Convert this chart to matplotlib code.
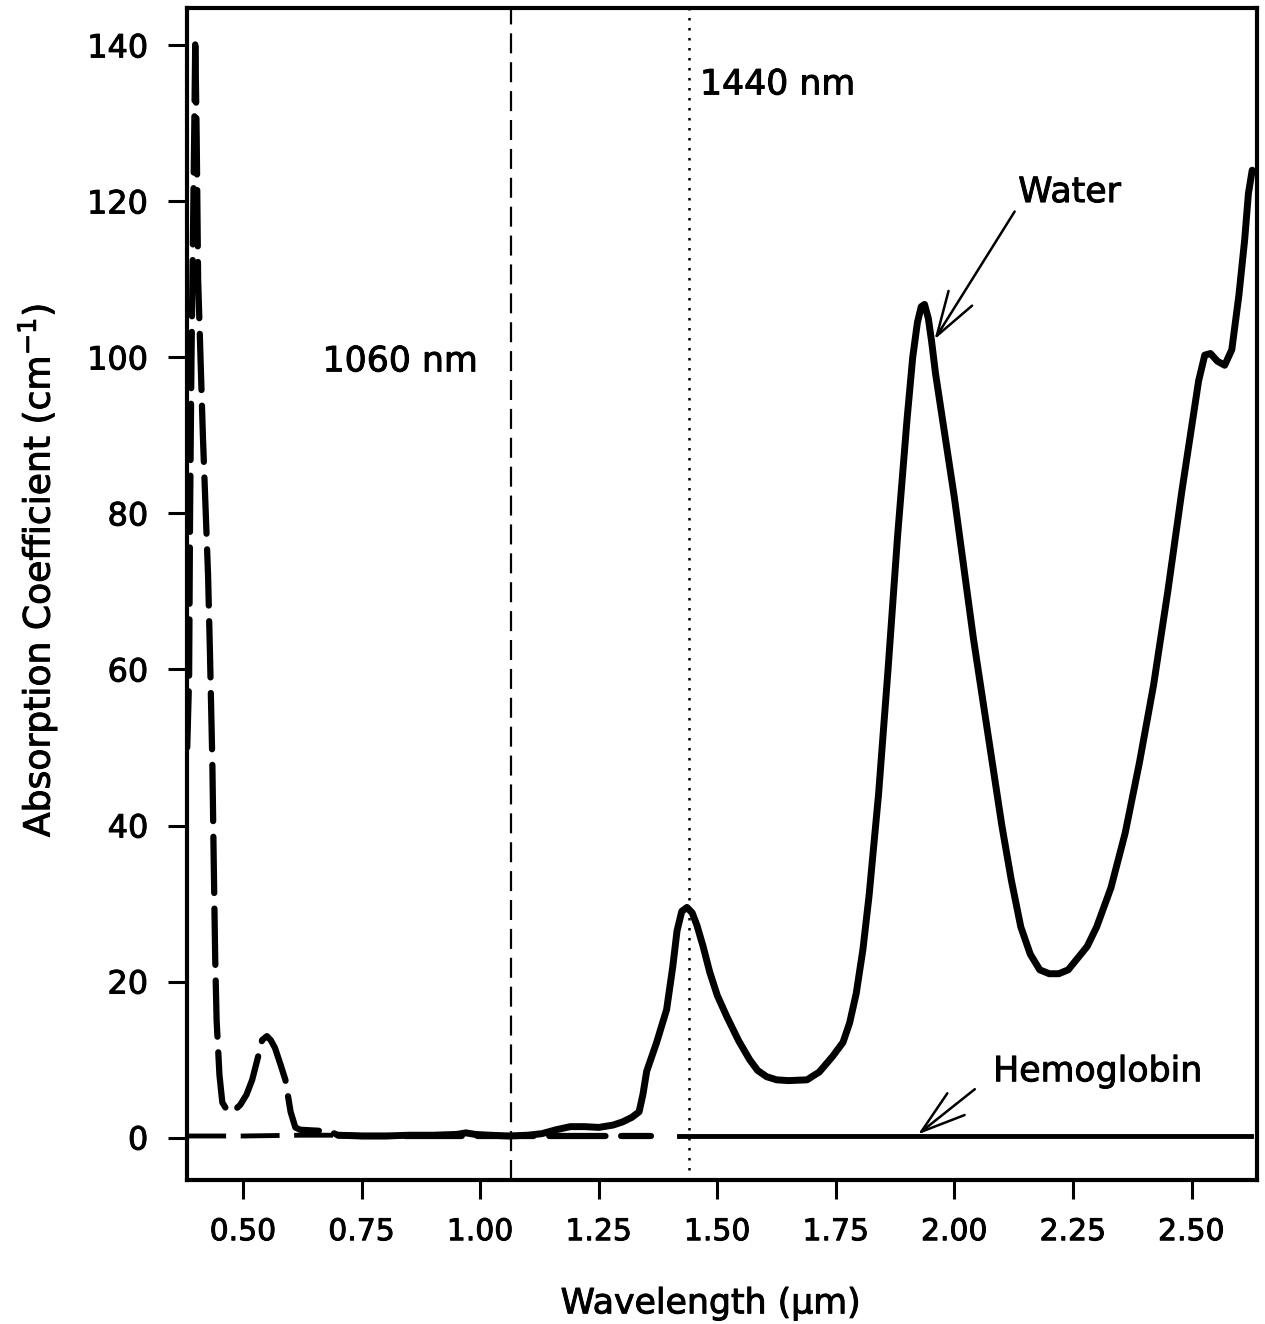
import numpy as np
import matplotlib
matplotlib.use("Agg")
import matplotlib.pyplot as plt
import matplotlib.patheffects as pe

plt.rcParams['font.family'] = ['DejaVu Sans']
plt.rcParams['mathtext.fontset'] = 'dejavusans'

# Hemoglobin absorption (dashed curve), wavelength in um
hb_wl = np.array([0.382, 0.386, 0.388, 0.391, 0.394, 0.397, 0.399, 0.402, 0.405,
                  0.415, 0.426, 0.430, 0.435, 0.438, 0.441, 0.444, 0.450, 0.456,
                  0.468, 0.480, 0.494, 0.507, 0.519, 0.530, 0.540, 0.550, 0.558,
                  0.567, 0.578, 0.589, 0.600, 0.610, 0.620, 0.650, 0.683, 0.700,
                  0.750, 1.000, 1.200, 1.360, 1.420, 2.000, 2.625])
hb_mua = np.array([50, 59, 80, 100, 115, 130, 141, 128, 110,
                   90, 72, 62, 48, 35, 23, 15, 8, 4.5,
                   3.3, 3.4, 4.2, 5.5, 7.4, 10, 12.5, 13, 12.5,
                   11.5, 9.5, 7.4, 3.3, 1.3, 1.0, 0.9, 0.8, 0.3,
                   0.2, 0.2, 0.2, 0.2, 0.2, 0.2, 0.2])

# Water absorption (solid curve)
w_wl = np.array([0.382, 0.50, 0.62, 0.70, 0.75, 0.80, 0.85, 0.90, 0.95, 0.97,
                 0.99, 1.02, 1.06, 1.10, 1.13, 1.16, 1.19, 1.22, 1.25, 1.28,
                 1.30, 1.32, 1.335, 1.343, 1.351, 1.372, 1.393, 1.406, 1.415, 1.425,
                 1.436, 1.447, 1.457, 1.470, 1.484, 1.50, 1.52, 1.545, 1.568, 1.585,
                 1.604, 1.625, 1.65, 1.689, 1.715, 1.743, 1.765, 1.779, 1.793, 1.807,
                 1.82, 1.84, 1.86, 1.88, 1.90, 1.912, 1.922, 1.930, 1.937, 1.945,
                 1.952, 1.96, 1.98, 2.00, 2.02, 2.04, 2.06, 2.08, 2.10, 2.12,
                 2.14, 2.16, 2.18, 2.20, 2.22, 2.24, 2.26, 2.28, 2.30, 2.33,
                 2.36, 2.39, 2.42, 2.45, 2.48, 2.50, 2.515, 2.528, 2.540, 2.555,
                 2.57, 2.585, 2.60, 2.612, 2.62, 2.628])
w_mua = np.array([0.2, 0.2, 0.3, 0.3, 0.2, 0.2, 0.3, 0.3, 0.4, 0.6,
                  0.4, 0.3, 0.2, 0.3, 0.5, 1.0, 1.4, 1.4, 1.3, 1.6,
                  2.0, 2.6, 3.3, 5.5, 8.5, 12.2, 16.4, 21.9, 26.5, 29.0,
                  29.5, 28.8, 27.2, 24.5, 21.2, 18.2, 15.5, 12.4, 10.0, 8.6,
                  7.8, 7.4, 7.3, 7.4, 8.4, 10.4, 12.2, 14.7, 18.5, 24.1,
                  31, 44, 60, 77, 92, 100, 104.5, 106.5, 106.8, 105,
                  102, 98, 90, 82, 73, 64, 56, 48, 40, 33,
                  27, 23.5, 21.5, 21, 21, 21.5, 23, 24.5, 27, 32,
                  39, 48, 58, 70, 83, 91, 97, 100.3, 100.5, 99.5,
                  99, 101, 108, 115, 121, 124])

laser_lines = [1.065, 1.44]
x_ticks = [0.50, 0.75, 1.00, 1.25, 1.50, 1.75, 2.00, 2.25, 2.50]
y_ticks = [0, 20, 40, 60, 80, 100, 120, 140]

fig = plt.figure(figsize=(12.65, 13.24), dpi=100)
ax = fig.add_axes([0.148, 0.109, 0.846, 0.885])

# hemoglobin: dashed in the visible, solid once it sits on zero past 1.4 um
m = hb_wl <= 1.36
ax.plot(hb_wl[m], hb_mua[m], color='black', lw=4.5, dashes=(9, 2.5),
        solid_capstyle='round', dash_capstyle='round', solid_joinstyle='round')
m2 = hb_wl >= 1.42
ax.plot(hb_wl[m2], hb_mua[m2], color='black', lw=3.5)

# water: dashed near zero at short wavelengths, solid after
mw = w_wl <= 0.70
ax.plot(w_wl[mw], w_mua[mw], color='black', lw=3.5, dashes=(8, 3))
mw2 = w_wl >= 0.70
ax.plot(w_wl[mw2], w_mua[mw2], color='black', lw=5, solid_joinstyle='round',
        solid_capstyle='round')

ax.axvline(laser_lines[0], color='black', lw=1.6, dashes=(9, 4))
ax.axvline(laser_lines[1], color='black', lw=1.8, dashes=(1, 3))

# slight stroke to mimic the heavier scanned lettering
heavy = [pe.withStroke(linewidth=0.7, foreground='black')]

ax.text(0.831, 99.5, '1060 nm', fontsize=25, ha='center', va='center', path_effects=heavy)
ax.text(1.627, 135, '1440 nm', fontsize=25, ha='center', va='center', path_effects=heavy)
ax.text(2.243, 121.2, 'Water', fontsize=25, ha='center', va='center', path_effects=heavy)
ax.text(2.302, 8.5, 'Hemoglobin', fontsize=25, ha='center', va='center', path_effects=heavy)

arrow = dict(arrowstyle='->, head_length=0.8, head_width=0.25', color='black',
             lw=1.8, mutation_scale=40, shrinkA=0, shrinkB=0)
ax.annotate('', xy=(1.958, 102.3), xytext=(2.127, 118.7), arrowprops=arrow)
ax.annotate('', xy=(1.923, 0.4), xytext=(2.043, 6.2), arrowprops=arrow)

ax.set_xlim(0.382, 2.639)
ax.set_ylim(-5.4, 144.8)
ax.set_xticks(x_ticks)
ax.set_xticklabels([f'{t:.2f}' for t in x_ticks])
ax.set_yticks(y_ticks)

for s in ax.spines.values():
    s.set_linewidth(3)
ax.tick_params(axis='both', direction='out', length=14, width=2.2)
ax.tick_params(axis='x', pad=13, labelsize=21.5)
ax.tick_params(axis='y', pad=14, labelsize=23)
for lbl in ax.get_xticklabels() + ax.get_yticklabels():
    lbl.set_path_effects(heavy)

ax.set_xlabel('Wavelength (\u00b5m)', fontsize=25, path_effects=heavy)
ax.xaxis.set_label_coords(0.489, -0.091)
ax.set_ylabel(r'Absorption Coefficient (cm$^{\mathregular{-1}}$)', fontsize=26,
              path_effects=heavy)
ax.yaxis.set_label_coords(-0.12, 0.52)

fig.savefig('out.png', dpi=100)
